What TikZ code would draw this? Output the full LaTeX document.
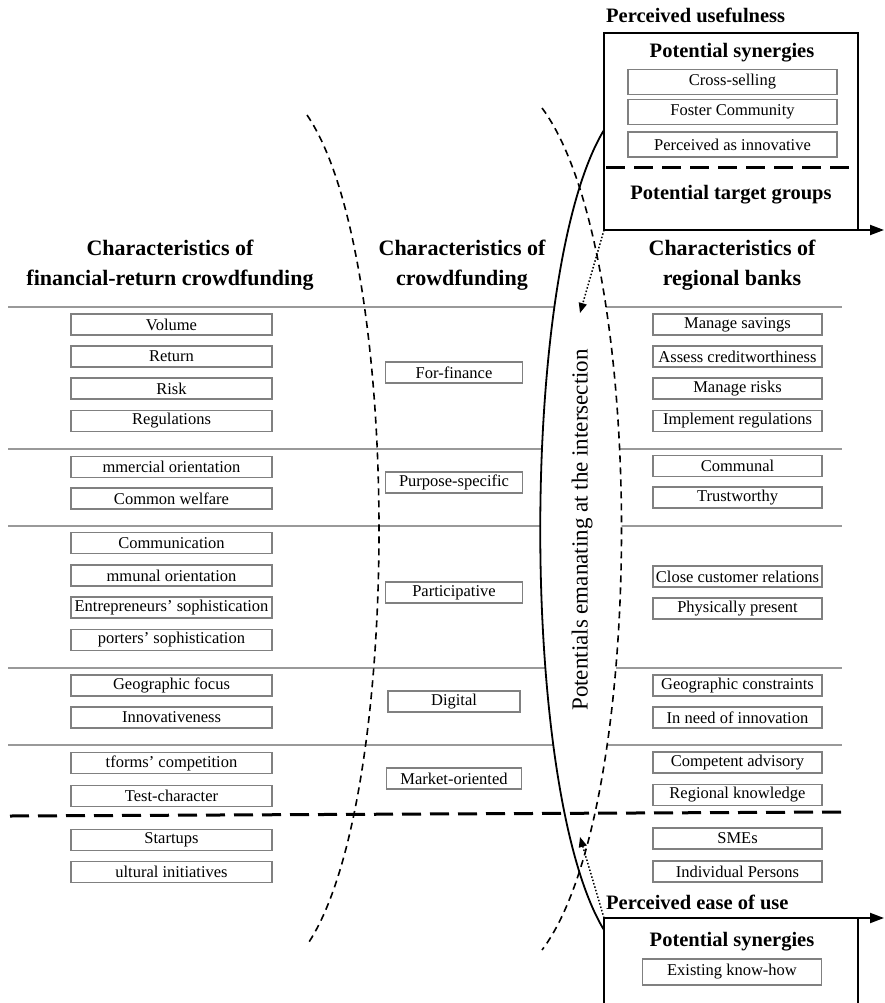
\documentclass[tikz,border=0pt]{standalone}
\usepackage{fontspec}
\setmainfont{Liberation Serif}
\usetikzlibrary{arrows.meta}
\newcommand{\boxfont}{\fontsize{16.5}{18}\selectfont}
\newcommand{\headfont}{\bfseries\fontsize{20.5}{30}\selectfont}

\tikzset{
  itembox/.style={draw=black!50, line width=1.2pt, minimum width=#1, minimum height=21pt, inner sep=0pt, font=\boxfont},
  synbox/.style={itembox=#1, minimum height=25pt},
  heading/.style={font=\bfseries\fontsize{22}{30}\selectfont, align=center},
  seprule/.style={draw=black!40, line width=1.5pt},
  groupline/.style={line width=3pt, dash pattern=on 19pt off 9pt},
  lens/.style={line width=1.6pt, dash pattern=on 7pt off 5pt},
  bigarrow/.style={line width=2pt, -{Triangle[length=14pt,width=10pt]}},
  dotarrow/.style={line width=1.5pt, dotted, -{Triangle[length=10pt,width=8pt]}}
}

\begin{document}
\begin{tikzpicture}[x=1pt, y=-1pt]
	\useasboundingbox (0,0) rectangle (884,1003);
	% curve end points
	\coordinate (solidTop) at (604,130);
	\coordinate (solidBot) at (604,930);
	\coordinate (leftTop) at (307,115);
	\coordinate (leftBot) at (307,945);
	\coordinate (rightTop) at (542,108);
	\coordinate (rightBot) at (542,950);
	% gray separators, cut out inside the intersection
	\foreach \y in {307,449,526,668,745}
		\draw[seprule] (8,\y) -- (842,\y);
	\fill[white] (solidTop) .. controls (519,270) and (519,790) .. (solidBot) -- (rightBot)
		.. controls (648,810) and (648,250) .. (rightTop) -- cycle;
	\draw[groupline] (10,816) -- (842,812);
	% curves
	\draw[lens] (leftTop) .. controls (403,255) and (403,805) .. (leftBot);
	\draw[lens] (rightTop) .. controls (648,250) and (648,810) .. (rightBot);
	\draw[line width=1.8pt] (solidTop) .. controls (519,270) and (519,790) .. (solidBot);
	\node[rotate=90, font=\fontsize{23}{26}\selectfont] (potentials) at (582,530) {Potentials emanating at the intersection};

	% perceived usefulness
	\coordinate (useBL) at (604,230);
	\coordinate (useTL) at (604,33);
	\coordinate (useTR) at (858,33);
	\coordinate (useBR) at (858,230);
	\coordinate (useEnd) at (884,230);
	\node[anchor=west, font=\headfont, inner sep=0pt] (useful) at (606,15) {Perceived usefulness};
	\draw[line width=2pt] (useBL) -- (useTL) -- (useTR) -- (useBR);
	\draw[bigarrow] (useBL) -- (useEnd);
	\draw[groupline] (606,168) -- (858,168);
	\node[font=\headfont] (synTop) at (732,53) {Potential synergies};
	\node[synbox=209pt] (cross) at (732.5,82) {Cross-selling};
	\node[synbox=209pt] (foster) at (732.5,112) {Foster Community};
	\node[synbox=209pt] (innov) at (732.5,144.5) {Perceived as innovative};
	\node[font=\headfont] (target) at (731,195) {Potential target groups};
	\coordinate (upTip) at (580,313);
	\draw[dotarrow] (useBL) -- (upTip);

	% headings
	\node[heading] (headCF) at (170,265) {Characteristics of\\financial-return crowdfunding};
	\node[heading] (headC) at (462,265) {Characteristics of\\crowdfunding};
	\node[heading] (headRB) at (732,265) {Characteristics of\\regional banks};

	% financial-return crowdfunding
	\node[itembox=201pt] (fVolume) at (171.5,324.5) {Volume};
	\node[itembox=201pt] (fReturn) at (171.5,356.5) {Return};
	\node[itembox=201pt] (fRisk) at (171.5,388.5) {Risk};
	\node[itembox=201pt] (fReg) at (171.5,421) {Regulations};
	\node[itembox=201pt] (fCommerce) at (171.5,467) {mmercial orientation};
	\node[itembox=201pt] (fWelfare) at (171.5,498.5) {Common welfare};
	\node[itembox=201pt] (fComm) at (171.5,543) {Communication};
	\node[itembox=201pt] (fCommunal) at (171.5,575.5) {mmunal orientation};
	\node[itembox=201pt] (fEntre) at (171.5,607.5) {Entrepreneurs’ sophistication};
	\node[itembox=201pt] (fSupp) at (171.5,640) {porters’ sophistication};
	\node[itembox=201pt] (fGeo) at (171.5,685.5) {Geographic focus};
	\node[itembox=201pt] (fInno) at (171.5,717.5) {Innovativeness};
	\node[itembox=201pt] (fPlat) at (171.5,763) {tforms’ competition};
	\node[itembox=201pt] (fTest) at (171.5,796) {Test-character};
	\node[itembox=201pt] (fStart) at (171.5,840) {Startups};
	\node[itembox=201pt] (fCult) at (171.5,872) {ultural initiatives};

	% crowdfunding
	\node[itembox=137pt] (cFinance) at (454,372.5) {For-finance};
	\node[itembox=137pt] (cPurpose) at (454,482.5) {Purpose-specific};
	\node[itembox=137pt] (cPart) at (454,592.5) {Participative};
	\node[itembox=132pt] (cDigital) at (454,701.5) {Digital};
	\node[itembox=135pt] (cMarket) at (454,778.5) {Market-oriented};

	% regional banks
	\node[itembox=169pt] (bSavings) at (737.5,324.5) {Manage savings};
	\node[itembox=169pt] (bCredit) at (737.5,356.5) {Assess creditworthiness};
	\node[itembox=169pt] (bRisks) at (737.5,388.5) {Manage risks};
	\node[itembox=169pt] (bReg) at (737.5,421) {Implement regulations};
	\node[itembox=169pt] (bCommunal) at (737.5,466) {Communal};
	\node[itembox=169pt] (bTrust) at (737.5,497.5) {Trustworthy};
	\node[itembox=169pt] (bClose) at (737.5,576.5) {Close customer relations};
	\node[itembox=169pt] (bPresent) at (737.5,608.5) {Physically present};
	\node[itembox=169pt] (bGeo) at (737.5,685.5) {Geographic constraints};
	\node[itembox=169pt] (bInno) at (737.5,717.5) {In need of innovation};
	\node[itembox=169pt] (bAdvice) at (737.5,762.5) {Competent advisory};
	\node[itembox=169pt] (bRegional) at (737.5,795) {Regional knowledge};
	\node[itembox=169pt] (bSME) at (737.5,838.5) {SMEs};
	\node[itembox=169pt] (bPersons) at (737.5,871.5) {Individual Persons};

	% perceived ease of use
	\coordinate (easeTL) at (604,918);
	\coordinate (easeBL) at (604,1003);
	\coordinate (easeTR) at (858,918);
	\coordinate (easeBR) at (858,1003);
	\coordinate (easeEnd) at (884,918);
	\node[anchor=west, font=\headfont, inner sep=0pt] (ease) at (606,902) {Perceived ease of use};
	\draw[bigarrow] (easeTL) -- (easeEnd);
	\draw[line width=2pt] (easeTL) -- (easeBL);
	\draw[line width=2pt] (easeTR) -- (easeBR);
	\node[font=\headfont] (synBot) at (732,942) {Potential synergies};
	\node[synbox=179pt, minimum height=26pt] (knowhow) at (732,972) {Existing know-how};
	\coordinate (downTip) at (580,837);
	\draw[dotarrow] (easeTL) -- (downTip);
\end{tikzpicture}
\end{document}
